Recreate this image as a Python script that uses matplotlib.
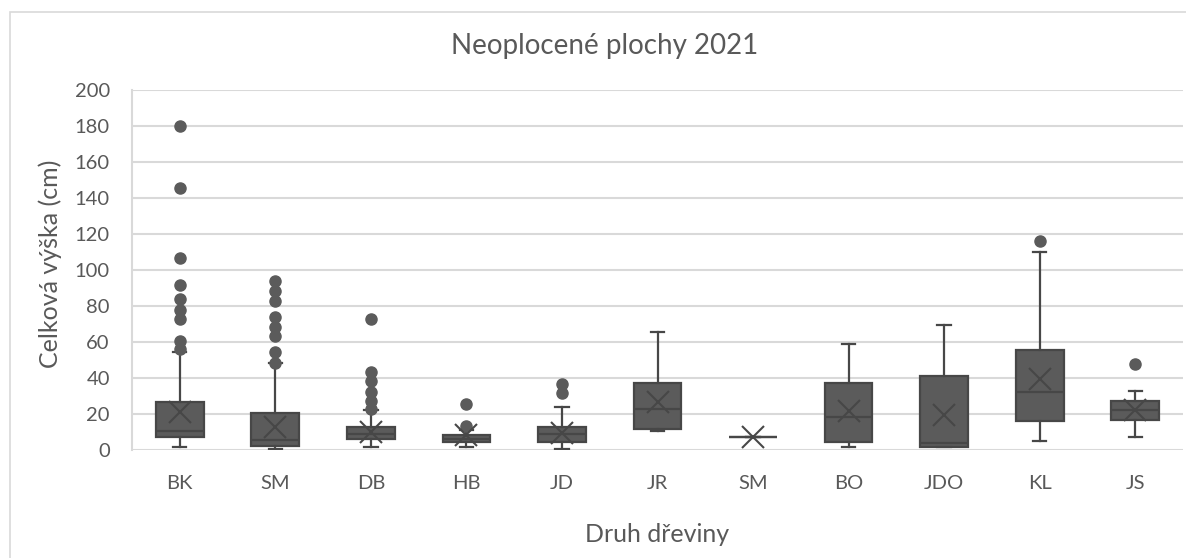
import matplotlib
matplotlib.use("Agg")
import matplotlib.pyplot as plt
from matplotlib.patches import Rectangle

# ---- data ----
categories = ["BK", "SM", "DB", "HB", "JD", "JR", "SM", "BO", "JDO", "KL", "JS"]
whisker_low = [1.5, 0.6, 1.5, 1.5, 0.8, 10.6, 7.5, 1.5, 1.8, 5.0, 7.0]
q1_values = [7.0, 2.4, 6.1, 4.3, 4.3, 11.8, 7.5, 4.3, 1.8, 16.0, 16.6]
medians = [10.5, 5.6, 8.9, 5.9, 8.7, 22.6, 7.5, 18.5, 4.0, 32.2, 22.0]
q3_values = [26.8, 20.7, 13.0, 8.3, 13.0, 37.4, 7.5, 37.0, 41.1, 55.4, 27.1]
whisker_high = [54.6, 48.1, 22.2, 11.0, 23.7, 65.6, 7.5, 58.7, 69.6, 110.2, 32.8]
means = [21.3, 13.0, 10.2, 8.1, 9.4, 26.5, 7.5, 21.9, 19.6, 39.5, 22.0]
outliers = [
    [180, 145.7, 106.5, 91.7, 83.7, 77.8, 72.6, 60.7, 56.0],
    [93.7, 88.5, 82.6, 73.7, 68.5, 63.3, 54.4, 48.5],
    [72.6, 43.5, 38.5, 32.4, 27.4, 22.6],
    [25.6, 13.5],
    [36.7, 31.5],
    [],
    [],
    [],
    [],
    [116.0],
    [47.9],
]
y_ticks = [0, 20, 40, 60, 80, 100, 120, 140, 160, 180, 200]

title = "Neoplocené plochy 2021"
x_label = "Druh dřeviny"
y_label = "Celková výška (cm)"

# ---- styling ----
FONT = ["Lato", "DejaVu Sans"]
plt.rcParams["font.family"] = FONT
TEXT = "#595959"
FILL = "#5b5b5b"
EDGE = "#474747"
GRID = "#d9d9d9"

fig = plt.figure(figsize=(11.86, 5.58), dpi=100)
W, H = 1186, 558
ax = fig.add_axes([132 / W, 1 - 450 / H, (1183 - 132) / W, (450 - 90) / H])

stats = []
for i in range(len(categories)):
    stats.append(dict(
        label=categories[i], whislo=whisker_low[i], q1=q1_values[i],
        med=medians[i], q3=q3_values[i], whishi=whisker_high[i],
        mean=means[i], fliers=outliers[i]))

ax.bxp(stats, positions=list(range(len(categories))), widths=0.5,
       patch_artist=True, showmeans=True, showfliers=True,
       boxprops=dict(facecolor=FILL, edgecolor=EDGE, linewidth=1.6),
       medianprops=dict(color=EDGE, linewidth=1.6),
       whiskerprops=dict(color=EDGE, linewidth=1.6),
       capprops=dict(color=EDGE, linewidth=1.6),
       capwidths=0.14,
       meanprops=dict(marker="x", markersize=16, markeredgecolor=EDGE,
                      markeredgewidth=1.5, markerfacecolor="none"),
       flierprops=dict(marker="o", markersize=8, markerfacecolor=FILL,
                       markeredgecolor=FILL))

ax.set_xlim(-0.5, len(categories) - 0.5)
ax.set_ylim(0, 200)
ax.set_yticks(y_ticks)
ax.set_xticks(range(len(categories)))
ax.set_xticklabels(categories)
ax.yaxis.grid(True, color=GRID, linewidth=1.5)
ax.set_axisbelow(True)
for s in ["top", "right", "bottom"]:
    ax.spines[s].set_visible(False)
ax.spines["left"].set_color(GRID)
ax.spines["left"].set_linewidth(1.5)
ax.tick_params(axis="both", length=0, labelsize=14.5, colors=TEXT)
ax.tick_params(axis="y", pad=16)
ax.tick_params(axis="x", pad=18)

fig.text(605 / W, 1 - 46 / H, title, ha="center", va="center",
         fontsize=20, color=TEXT)
fig.text(657 / W, 1 - 535 / H, x_label, ha="center", va="center",
         fontsize=18, color=TEXT)
fig.text(50 / W, 1 - 264 / H, y_label, ha="center", va="center",
         rotation=90, fontsize=18, color=TEXT)

# chart area border
fig.patches.append(Rectangle((10 / W, -0.01), 1.2, 1 - 12 / H + 0.01,
                             transform=fig.transFigure, fill=False,
                             edgecolor=GRID, linewidth=1.2))

fig.savefig("out.png", dpi=100)
